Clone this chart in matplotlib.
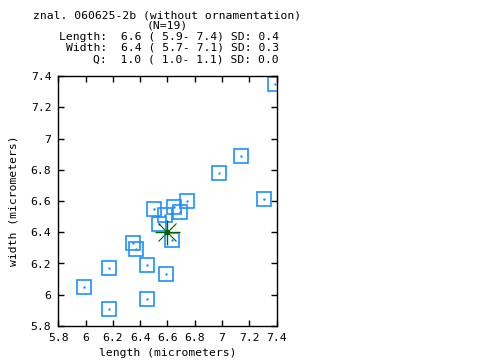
import matplotlib
matplotlib.use("Agg")
import matplotlib.pyplot as plt
from matplotlib.ticker import FuncFormatter

# measurements (micrometers)
lengths = [7.39, 7.14, 6.98, 7.31, 6.74, 6.65, 6.69, 6.50, 6.58, 6.54,
           6.63, 6.35, 6.37, 6.45, 6.17, 6.59, 5.99, 6.45, 6.17]
widths = [7.35, 6.89, 6.78, 6.61, 6.60, 6.56, 6.53, 6.55, 6.51, 6.45,
          6.35, 6.33, 6.29, 6.19, 6.17, 6.13, 6.05, 5.97, 5.91]
mean_length = 6.60
mean_width = 6.40

title_lines = [
    "znal. 060625-2b (without ornamentation)",
    "(N=19)",
]
stat_lines = [
    "Length:  6.6 ( 5.9- 7.4) SD: 0.4",
    "Width:  6.4 ( 5.7- 7.1) SD: 0.3",
    "Q:  1.0 ( 1.0- 1.1) SD: 0.0",
]

font = "DejaVu Sans Mono"
fs = 8.2
blue = "#1E90FF"
green = "#006400"

fig = plt.figure(figsize=(4.8, 3.6), dpi=100)
ax = fig.add_axes([58.3 / 480, 1 - 326 / 360, (276.7 - 58.3) / 480, 250 / 360])

ax.plot(lengths, widths, linestyle="none", marker="s", markersize=10,
        markerfacecolor="none", markeredgecolor=blue, markeredgewidth=1.2)
ax.plot(lengths, widths, linestyle="none", marker=".", markersize=1.5,
        color=blue)

# mean marker
ax.plot([mean_length], [mean_width], marker="+", markersize=18,
        markeredgewidth=1.0, color=green, linestyle="none")
ax.plot([mean_length], [mean_width], marker="x", markersize=13,
        markeredgewidth=0.8, color=green, linestyle="none")
ax.plot([mean_length], [mean_width], marker="o", markersize=3,
        color=green, linestyle="none")

ax.set_xlim(5.8, 7.4)
ax.set_ylim(5.8, 7.4)
ticks = [5.8, 6.0, 6.2, 6.4, 6.6, 6.8, 7.0, 7.2, 7.4]
ax.set_xticks(ticks)
ax.set_yticks(ticks)
fmt = FuncFormatter(lambda v, p: "%g" % round(v, 1))
ax.xaxis.set_major_formatter(fmt)
ax.yaxis.set_major_formatter(fmt)
ax.tick_params(direction="in", length=4.5, width=1, top=True, right=True,
               labelsize=fs, pad=5)
for lab in ax.get_xticklabels() + ax.get_yticklabels():
    lab.set_fontfamily(font)
for s in ax.spines.values():
    s.set_linewidth(1)

ax.set_xlabel("length (micrometers)", fontfamily=font, fontsize=fs, labelpad=4)
ax.set_ylabel("width (micrometers)", fontfamily=font, fontsize=fs, labelpad=9)

x_center = 167.5 / 480
for i, line in enumerate(title_lines):
    fig.text(x_center, 1 - (15 + 11 * i) / 360, line, ha="center", va="center",
             fontfamily=font, fontsize=fs)
for i, line in enumerate(stat_lines):
    fig.text(279 / 480, 1 - (37 + 11 * i) / 360, line, ha="right", va="center",
             fontfamily=font, fontsize=fs)

fig.savefig("out.png", dpi=100)
